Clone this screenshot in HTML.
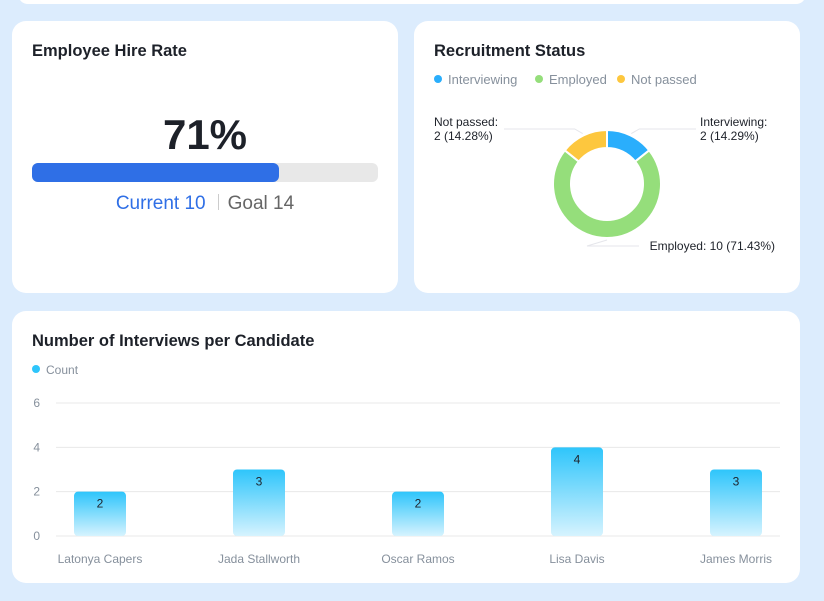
<!DOCTYPE html>
<html><head><meta charset="utf-8"><style>
body{margin:0;width:824px;height:601px;background:#dcecfd;font-family:"Liberation Sans",sans-serif;position:relative;overflow:hidden}
.card{position:absolute;background:#fff;border-radius:14px}
.title{position:absolute;left:20px;top:21px;font-size:16.5px;font-weight:bold;color:#1d2129}
</style></head><body>
<div class="card" style="left:18px;top:-20px;width:788px;height:24px;border-radius:10px"></div>

<div class="card" style="left:12px;top:21px;width:386px;height:272px">
  <div class="title">Employee Hire Rate</div>
  <div style="position:absolute;left:0;width:386px;top:90px;text-align:center;font-size:42px;font-weight:bold;color:#1d2129">71%</div>
  <div style="position:absolute;left:20px;top:142px;width:346px;height:19px;background:#e8e8e8;border-radius:6px">
    <div style="width:247px;height:19px;background:#2f6fe6;border-radius:6px"></div>
  </div>
  <div style="position:absolute;left:0;width:386px;top:172px;text-align:center;font-size:19px">
    <span style="color:#2f6fe6">Current 10</span><span style="display:inline-block;width:1px;height:16px;background:#ccc;margin:0 9px 0 12px;vertical-align:-1px"></span><span style="color:#666">Goal 14</span>
  </div>
</div>

<div class="card" style="left:414px;top:21px;width:386px;height:272px">
  <div class="title">Recruitment Status</div>
  <svg width="386" height="272" style="position:absolute;left:0;top:0" id="pie"></svg>
</div>

<div class="card" style="left:12px;top:311px;width:788px;height:272px">
  <div class="title">Number of Interviews per Candidate</div>
</div>
<svg width="824" height="601" style="position:absolute;left:0;top:0" id="bar"></svg>

<script>
const pieLabels=["Interviewing","Employed","Not passed"];
const pieValues=[2,10,2];
const piePcts=["14.29%","71.43%","14.28%"];
const pieColors=["#2aaefc","#95de7b","#fdc73e"];

const barCats=["Latonya Capers","Jada Stallworth","Oscar Ramos","Lisa Davis","James Morris"];
const barValues=[2,3,2,4,3];
const yTicks=[0,2,4,6];

const NS="http://www.w3.org/2000/svg";
function mk(p,t,a){const e=document.createElementNS(NS,t);for(const k in a)e.setAttribute(k,a[k]);p.appendChild(e);return e;}

// pie
const pie=document.getElementById('pie');
const legX=[20,121,203];
pieLabels.forEach((l,i)=>{
  const lx=legX[i];
  const g=mk(pie,'g',{});
  
  
  mk(g,'circle',{cx:lx+4,cy:58,r:4,fill:pieColors[i]});
  const t=mk(g,'text',{x:lx+14,y:63,'font-size':13,fill:'#86909c'});t.textContent=l;
});
const cx=193,cy=163,R=54,r=36;
const tot=pieValues.reduce((a,b)=>a+b,0);
let a0=0;
const labelPos=[[286,105,'start'],[361,229,'end'],[20,105,'start']];
pieValues.forEach((v,i)=>{
  const a1=a0+v/tot*2*Math.PI;
  const p=(a,rad)=>[cx+rad*Math.sin(a),cy-rad*Math.cos(a)];
  const [x1,y1]=p(a0,R),[x2,y2]=p(a1,R),[x3,y3]=p(a1,r),[x4,y4]=p(a0,r);
  const lg=(a1-a0)>Math.PI?1:0;
  const s=mk(pie,'path',{d:`M${x1},${y1}A${R},${R} 0 ${lg} 1 ${x2},${y2}L${x3},${y3}A${r},${r} 0 ${lg} 0 ${x4},${y4}Z`,fill:pieColors[i],stroke:'#fff','stroke-width':2});
  
  
  const am=(a0+a1)/2;const [ex,ey]=p(am,R+2);
  const [tx,ty,anc]=labelPos[i];
  const ly=i==1?ty-4:ty+3;
  const mx=ex+(anc=='end'?-20:(tx<cx?-8:8));
  mk(pie,'polyline',{points:`${ex},${ey} ${mx},${ly} ${anc=='end'?tx-136:(tx<cx?tx+70:tx-4)},${ly}`,fill:'none',stroke:'#e5e6eb'});
  const t=mk(pie,'text',{x:tx,y:ty,'font-size':12,fill:'#1d2129','text-anchor':anc});
  
  
  if(i==1){t.textContent=pieLabels[i]+': '+v+' ('+piePcts[i]+')';}
  else{mk(t,'tspan',{x:tx}).textContent=pieLabels[i]+':';mk(t,'tspan',{x:tx,dy:14}).textContent=v+' ('+piePcts[i]+')';}
  a0=a1;
});

// bar
const bar=document.getElementById('bar');
const defs=mk(bar,'defs',{});
const gr=mk(defs,'linearGradient',{id:'bg',x1:0,y1:0,x2:0,y2:1});
mk(gr,'stop',{offset:0,'stop-color':'#2ec5fb'});
mk(gr,'stop',{offset:1,'stop-color':'#d6f3fe'});
const lgd=mk(bar,'g',{});


mk(lgd,'circle',{cx:36,cy:369,r:4,fill:'#2ec5fb'});
mk(lgd,'text',{x:46,y:374,'font-size':12,fill:'#86909c'}).textContent='Count';
const X0=56,X1=780,Y0=536,Y1=403,ymax=6,PAD=44;
const y=v=>Y0-(Y0-Y1)*v/ymax;
const step=(X1-X0-2*PAD)/(barCats.length-1);
const x=i=>X0+PAD+step*i;
yTicks.forEach(t=>{
  const ln=mk(bar,'line',{x1:X0,x2:X1,y1:y(t),y2:y(t),stroke:'#e8e8e8'});
  
  
  const tx=mk(bar,'text',{x:40,y:y(t)+4,'font-size':12,fill:'#86909c','text-anchor':'end'});
  
  
  tx.textContent=t;
});
barCats.forEach((c,i)=>{
  const bw=52,v=barValues[i];
  const r=mk(bar,'rect',{x:x(i)-bw/2,y:y(v),width:bw,height:Y0-y(v),rx:4,fill:'url(#bg)'});
  
  
  const vt=mk(bar,'text',{x:x(i),y:y(v)+16,'font-size':12,fill:'#1d2129','text-anchor':'middle'});
  
  
  vt.textContent=v;
  const ct=mk(bar,'text',{x:x(i),y:563,'font-size':12,fill:'#86909c','text-anchor':'middle'});
  
  
  ct.textContent=c;
});
</script>
</body></html>
